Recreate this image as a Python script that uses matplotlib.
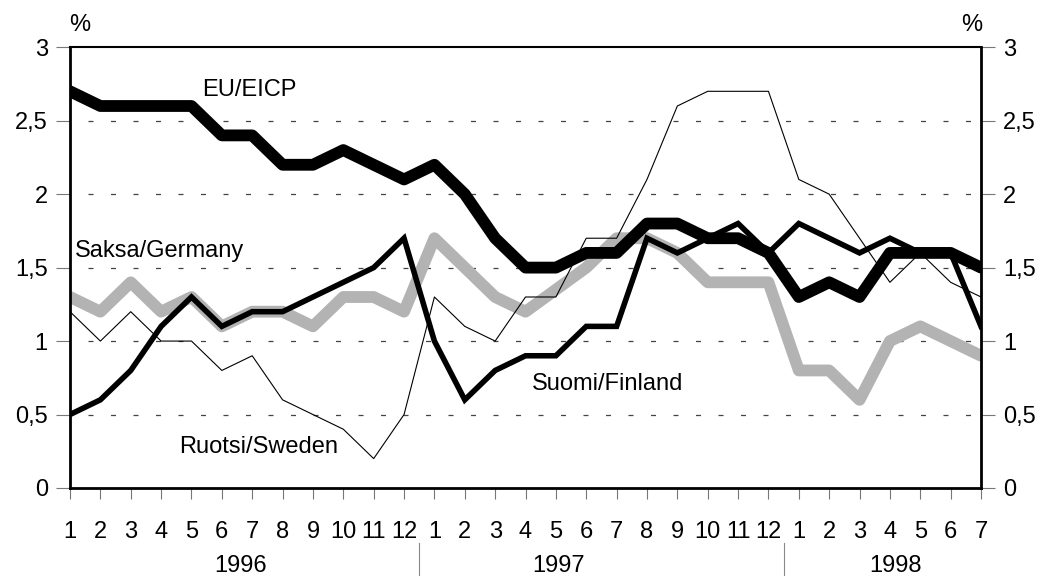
import matplotlib
matplotlib.use('Agg')
import matplotlib.pyplot as plt
from matplotlib.lines import Line2D

plt.rcParams['font.family'] = ['Liberation Sans Narrow', 'Liberation Sans', 'DejaVu Sans']

# monthly values, 1996-1 .. 1998-7
months = [str(m) for m in range(1, 13)] * 2 + [str(m) for m in range(1, 8)]
years = ['1996', '1997', '1998']

eu = [2.7, 2.6, 2.6, 2.6, 2.6, 2.4, 2.4, 2.2, 2.2, 2.3, 2.2, 2.1,
      2.2, 2.0, 1.7, 1.5, 1.5, 1.6, 1.6, 1.8, 1.8, 1.7, 1.7, 1.6,
      1.3, 1.4, 1.3, 1.6, 1.6, 1.6, 1.5]
finland = [0.5, 0.6, 0.8, 1.1, 1.3, 1.1, 1.2, 1.2, 1.3, 1.4, 1.5, 1.7,
           1.0, 0.6, 0.8, 0.9, 0.9, 1.1, 1.1, 1.7, 1.6, 1.7, 1.8, 1.6,
           1.8, 1.7, 1.6, 1.7, 1.6, 1.6, 1.1]
germany = [1.3, 1.2, 1.4, 1.2, 1.3, 1.1, 1.2, 1.2, 1.1, 1.3, 1.3, 1.2,
           1.7, 1.5, 1.3, 1.2, 1.35, 1.5, 1.7, 1.7, 1.6, 1.4, 1.4, 1.4,
           0.8, 0.8, 0.6, 1.0, 1.1, 1.0, 0.9]
sweden = [1.2, 1.0, 1.2, 1.0, 1.0, 0.8, 0.9, 0.6, 0.5, 0.4, 0.2, 0.5,
          1.3, 1.1, 1.0, 1.3, 1.3, 1.7, 1.7, 2.1, 2.6, 2.7, 2.7, 2.7,
          2.1, 2.0, 1.7, 1.4, 1.6, 1.4, 1.3]

x = list(range(len(months)))

fig = plt.figure(figsize=(10.64, 5.76), dpi=100)
ax = fig.add_axes([0.0658, 0.1528, 0.8562, 0.7652])

for yv in [0.5, 1.0, 1.5, 2.0, 2.5]:
    ax.plot([0.6, 30], [yv, yv], color='#444444', lw=0.9,
            linestyle=(0, (4, 14)), zorder=1)

ax.plot(x, germany, color='#b3b3b3', lw=8.5, solid_joinstyle='round',
        solid_capstyle='round', zorder=2)
ax.plot(x, sweden, color='black', lw=0.8, zorder=3)
ax.plot(x, finland, color='black', lw=4, solid_joinstyle='miter', zorder=4)
ax.plot(x, eu, color='black', lw=8.5, solid_joinstyle='round',
        solid_capstyle='round', zorder=5)

ax.set_xlim(0, 30)
ax.set_ylim(0, 3)
ax.set_yticks([0, 0.5, 1, 1.5, 2, 2.5, 3])
ax.set_yticklabels(['0', '0,5', '1', '1,5', '2', '2,5', '3'])
ax.tick_params(axis='y', which='both', left=True, right=True, labelleft=True,
               labelright=True, length=10, width=0.8, color='#777777',
               labelsize=17, pad=6)
ax.set_xticks(x)
ax.set_xticklabels(months)
ax.tick_params(axis='x', length=8, width=0.8, color='#777777', labelsize=17, pad=16)

for side in ['left', 'right', 'bottom']:
    ax.spines[side].set_linewidth(2)
ax.spines['top'].set_linewidth(1.5)

# year labels and separators
for pos, name in zip([5.6, 16.1, 27.2], years):
    ax.text(pos, -0.178, name, transform=ax.get_xaxis_transform(),
            ha='center', va='center', fontsize=17)
for sep in [11.5, 23.5]:
    ax.add_line(Line2D([sep, sep], [-0.125, -0.2], transform=ax.get_xaxis_transform(),
                       color='#888888', lw=0.8, clip_on=False))

ax.text(5.9, 2.71, 'EU/EICP', ha='center', va='center', fontsize=17, zorder=6)
ax.text(0.16, 1.61, 'Saksa/Germany', ha='left', va='center', fontsize=17, zorder=6)
ax.text(6.2, 0.28, 'Ruotsi/Sweden', ha='center', va='center', fontsize=17, zorder=6)
ax.text(17.7, 0.71, 'Suomi/Finland', ha='center', va='center', fontsize=17, zorder=6)

fig.text(80 / 1064, 1 - 25 / 576, '%', ha='center', va='center', fontsize=17)
fig.text(972 / 1064, 1 - 25 / 576, '%', ha='center', va='center', fontsize=17)

fig.savefig('out.png', dpi=100)
